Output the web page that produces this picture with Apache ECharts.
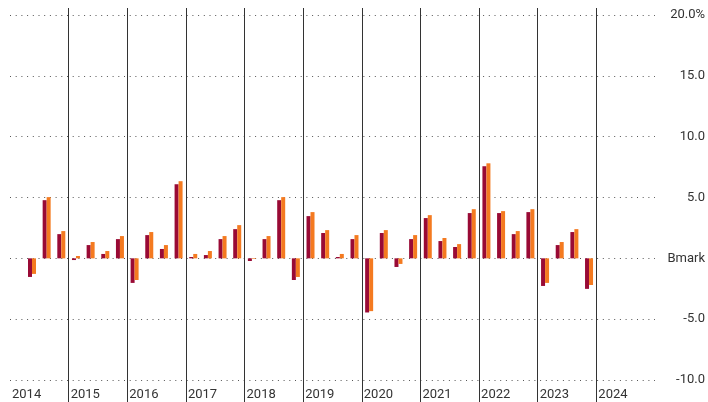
<!DOCTYPE html>
<html>
<head>
<meta charset="utf-8">
<script src="https://cdn.jsdelivr.net/npm/echarts@6/dist/echarts.min.js"></script>
<style>
html,body{margin:0;padding:0;background:#fff;}
#chart{width:708px;height:402px;}
</style>
</head>
<body>
<div id="chart"></div>
<script>
// Years and quarters
var years = ['2014','2015','2016','2017','2018','2019','2020','2021','2022','2023','2024'];
var quarters = [];
years.forEach(function(y){ for (var q = 1; q <= 4; q++) quarters.push(y + ' Q' + q); });

// Series values (quarterly %, 2014 Q1 .. 2024 Q4)
var fundReturns = [
  null, -1.53, 4.78, 1.99,
  -0.14, 1.09, 0.36, 1.58,
  -2.02, 1.91, 0.77, 6.09,
  0.11, 0.27, 1.58, 2.40,
  -0.22, 1.58, 4.78, -1.78,
  3.47, 2.08, 0.11, 1.58,
  -4.45, 2.08, -0.71, 1.58,
  3.31, 1.42, 0.93, 3.72,
  7.57, 3.72, 1.99, 3.80,
  -2.27, 1.09, 2.16, -2.51,
  null, null, null, null
];
var indexReturns = [
  null, -1.28, 5.03, 2.24,
  0.19, 1.34, 0.60, 1.83,
  -1.78, 2.16, 1.09, 6.34,
  0.36, 0.60, 1.83, 2.73,
  -0.05, 1.83, 5.03, -1.53,
  3.80, 2.32, 0.36, 1.91,
  -4.34, 2.32, -0.46, 1.91,
  3.55, 1.67, 1.17, 4.04,
  7.81, 3.88, 2.24, 4.04,
  -2.02, 1.34, 2.40, -2.19,
  null, null, null, null
];

// Y tick labels
var yTicks = {'20': '20.0%', '15': '15.0', '10': '10.0', '5': '5.0', '0': 'Bmark', '-5': '-5.0', '-10': '-10.0'};

var yearBoundaries = years.concat(['']);
var FONT = 'Roboto';
var LINE = '#333';

var chart = echarts.init(document.getElementById('chart'), null, {renderer: 'canvas'});
chart.setOption({
  animation: false,
  backgroundColor: '#fff',
  grid: {left: 10, right: 52, top: 15, bottom: 22, containLabel: false},
  xAxis: [
    {
      type: 'category', data: quarters, boundaryGap: true,
      axisLine: {show: false}, axisTick: {show: false}, axisLabel: {show: false}, splitLine: {show: false}
    },
    {
      type: 'category', data: yearBoundaries, boundaryGap: false, position: 'bottom',
      axisLine: {show: false}, axisLabel: {show: false}, splitLine: {show: false},
      axisTick: {show: true, inside: true, length: 372, interval: function(i){ return i > 0 && i < 11; },
                 lineStyle: {color: LINE, width: 1}}
    },
    {
      type: 'category', data: yearBoundaries, boundaryGap: false, position: 'bottom',
      axisLine: {show: false}, splitLine: {show: false},
      axisTick: {show: true, inside: false, length: 22, interval: function(i){ return i > 0 && i < 11; },
                 lineStyle: {color: LINE, width: 1}},
      axisLabel: {show: true, interval: 0, align: 'left', padding: [0,0,0,2], margin: 8,
                  color: '#333', fontFamily: FONT, fontSize: 13}
    }
  ],
  yAxis: {
    type: 'value', position: 'right', min: -10, max: 20, interval: 5,
    axisLine: {show: false}, axisTick: {show: false},
    splitLine: {show: true, lineStyle: {color: '#555', width: 1, type: [1, 4.7]}},
    axisLabel: {
      show: true, align: 'right', margin: 50, color: '#333', fontFamily: FONT, fontSize: 13,
      formatter: function(v){ return yTicks[String(v)] !== undefined ? yTicks[String(v)] : v.toFixed(1); }
    }
  },
  series: [
    {
      name: 'Fund', type: 'bar', xAxisIndex: 0, data: fundReturns,
      barWidth: 4, barGap: '0%', itemStyle: {color: '#990a35'}
    },
    {
      name: 'Index', type: 'bar', xAxisIndex: 0, data: indexReturns,
      barWidth: 4, barGap: '0%', itemStyle: {color: '#f47a20'}
    }
  ]
});
</script>
</body>
</html>
